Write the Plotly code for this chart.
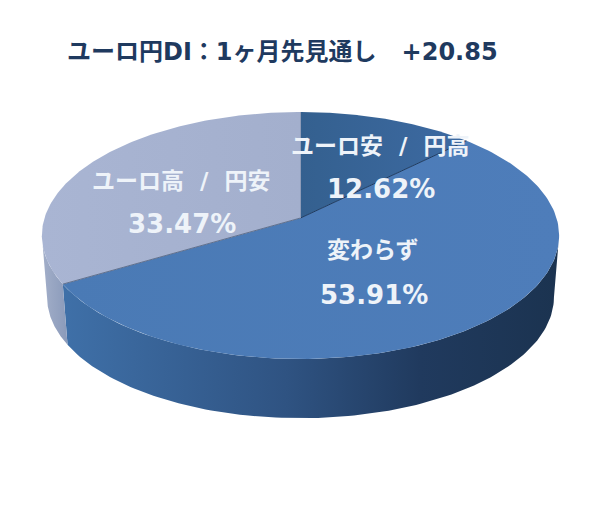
import numpy as np
import plotly.graph_objects as go

title = "ユーロ円DI：1ヶ月先見通し   +20.85"
categories = ["ユーロ安 / 円高", "変わらず", "ユーロ高 / 円安"]
shares = [12.62, 53.91, 33.47]

top_colors = [["#34608f", "#3d6aa2"], ["#4a7ab5", "#4e7dba"], ["#a9b5d3", "#a3afcd"]]
wall_colors = [
    [[0, "#2b4a73"], [1, "#2b4a73"]],
    [[0, "#3f70a8"], [0.45, "#2f5382"], [0.72, "#203a5e"], [1, "#1b3350"]],
    [[0, "#a3afc9"], [1, "#8a9aba"]],
]
edge_colors = ["#1e3a5f", "#5f6f8c", "#8f9cb8"]
label_pos = [(380, 146, 189), (373, 250, 295), (181, 181, 224)]
FONT = "DejaVu Sans, Noto Sans CJK JP"

# tilted disc seen in perspective, sizes in pixels of the 600x512 page
X0, Y0, A, B, K = 300.5, 218, 256, 121, 0.142
DROP, SHRINK = 62, 0.98


def rim(theta, bottom=False):
    u, v = np.sin(theta), np.cos(theta)
    w = 1 + K * v
    if bottom:
        return X0 + SHRINK * A * u / w, Y0 + DROP - SHRINK * B * v / w
    return X0 + A * u / w, Y0 - B * v / w


edges = np.cumsum([0] + shares) / 100 * 2 * np.pi
# the wall only shows between the left and right extremes of the disc
wall_from = np.pi / 2 + np.arcsin(K)
wall_to = 3 * np.pi / 2 - np.arcsin(K)

fig = go.Figure()

for i in range(3):
    t1, t2 = max(edges[i], wall_from), min(edges[i + 1], wall_to)
    if t1 >= t2:
        continue
    th = np.linspace(t1, t2, 120)
    x1, y1 = rim(th)
    x2, y2 = rim(th[::-1], bottom=True)
    fig.add_scatter(x=np.r_[x1, x2], y=np.r_[y1, y2], mode="lines", fill="toself",
                    line=dict(width=0), hoverinfo="skip",
                    fillgradient=dict(type="horizontal", colorscale=wall_colors[i]))

for i in range(3):
    th = np.linspace(edges[i], edges[i + 1], 160)
    x1, y1 = rim(th)
    fig.add_scatter(x=np.r_[X0, x1, X0], y=np.r_[Y0, y1, Y0], mode="lines", fill="toself",
                    line=dict(width=0), hoverinfo="skip",
                    fillgradient=dict(type="horizontal",
                                      colorscale=[[0, top_colors[i][0]], [1, top_colors[i][1]]]))

# thin dark lines where the slices meet
for i in range(3):
    ex, ey = rim(np.array([edges[i + 1]]))
    fig.add_scatter(x=[X0, ex[0]], y=[Y0, ey[0]], mode="lines", hoverinfo="skip",
                    line=dict(width=1, color=edge_colors[i]))

annotations = [dict(x=65, y=52, xanchor="left", yanchor="middle",
                    text="<b>" + title.replace(" ", "\u00a0") + "</b>", showarrow=False,
                    font=dict(size=24, color="#1f3a5f", family=FONT))]
for name, share, (lx, ly1, ly2) in zip(categories, shares, label_pos):
    annotations.append(dict(x=lx, y=ly1, text="<b>" + name.replace(" ", "\u00a0\u00a0") + "</b>", showarrow=False,
                            font=dict(size=23, color="#eef3f9", family=FONT)))
    annotations.append(dict(x=lx + 1, y=ly2, text=f"<b>{share:.2f}%</b>", showarrow=False,
                            font=dict(size=26, color="#eef3f9", family=FONT)))

# the page body has an 8px margin, so the plot starts at 8,8
fig.update_layout(width=592, height=504, margin=dict(l=0, r=0, t=0, b=0),
                  paper_bgcolor="white", plot_bgcolor="white", showlegend=False,
                  annotations=annotations,
                  xaxis=dict(range=[8, 600], visible=False),
                  yaxis=dict(range=[512, 8], visible=False))
fig.write_html("out.html")
